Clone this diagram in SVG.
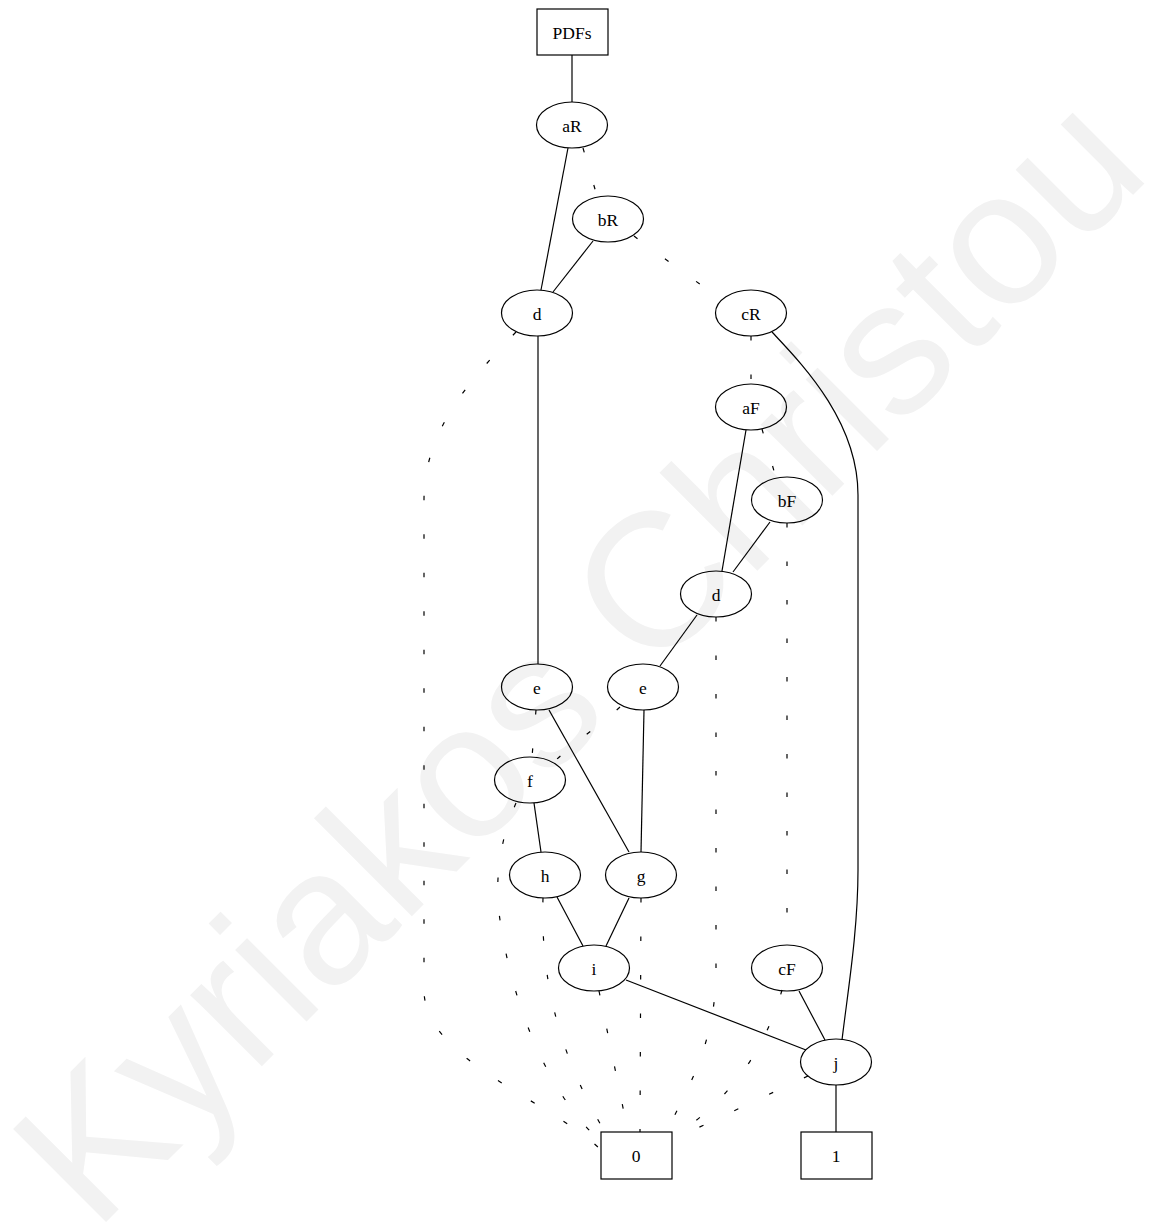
<svg xmlns="http://www.w3.org/2000/svg" width="1153" height="1230" viewBox="0 0 1153 1230">
  <style>
    .node ellipse, .node rect { fill: none; stroke: #000; stroke-width: 1.2; }
    .node text { font-family: "Liberation Serif", "Times New Roman", serif; font-size: 17.5px; text-anchor: middle; fill: #000; }
    .edges path { fill: none; stroke: #000; stroke-width: 1.2; }
    .edges .lo { stroke-dasharray: 4.5 34; }
    .mark { font-family: "Liberation Sans", Arial, sans-serif; font-size: 191px; fill: #f2f2f2; }
  </style>
  <rect width="1153" height="1230" fill="#fff"/>
  <text class="mark" transform="translate(95,1233) rotate(-45)">Kyriakos Christou</text>

  <g class="edges">
    <!-- high (solid) branches -->
    <path d="M572,55 L572,102"/>
    <path d="M568,148 L541,290"/>
    <path d="M593,241 L553,292"/>
    <path d="M538,336 L538,664"/>
    <path d="M772,332 C800,362 858,420 858,495 L858,870 C858,930 848,990 842,1040"/>
    <path d="M746,430 L722,571"/>
    <path d="M770,522 L733,572"/>
    <path d="M697,615 L660,666"/>
    <path d="M549,710 L629,852"/>
    <path d="M644,710 L641,852"/>
    <path d="M534,803 L541,852"/>
    <path d="M557,897 L583,946"/>
    <path d="M629,898 L606,946"/>
    <path d="M626,980 L806,1050"/>
    <path d="M799,991 L825,1040"/>
    <path d="M836,1085 L836,1132"/>
    <!-- low (dashed) branches -->
    <path class="lo" d="M583,148 L597,196"/>
    <path class="lo" d="M634,236 C660,256 690,276 718,298"/>
    <path class="lo" d="M516,332 C470,380 424,430 424,500 L424,990 C424,1060 550,1100 601,1150"/>
    <path class="lo" d="M751,336 L751,384"/>
    <path class="lo" d="M762,429 L776,478"/>
    <path class="lo" d="M787,523 L787,945"/>
    <path class="lo" d="M716,617 L716,970 C716,1040 690,1085 666,1132"/>
    <path class="lo" d="M536,710 L532,757"/>
    <path class="lo" d="M620,707 C600,725 575,742 556,760"/>
    <path class="lo" d="M516,803 C500,840 494,880 500,920 C510,990 540,1080 592,1133"/>
    <path class="lo" d="M543,898 C541,960 550,1040 605,1132"/>
    <path class="lo" d="M599,991 L628,1132"/>
    <path class="lo" d="M641,898 L640,1132"/>
    <path class="lo" d="M782,990 C765,1050 730,1100 672,1138"/>
    <path class="lo" d="M808,1076 L672,1140"/>
  </g>

  <g id="node-PDFs" class="node"><rect x="537" y="9" width="71" height="46"/><text x="572" y="39">PDFs</text></g>
  <g id="node-aR" class="node"><ellipse cx="572" cy="125" rx="35.5" ry="23"/><text x="572" y="132">aR</text></g>
  <g id="node-bR" class="node"><ellipse cx="608" cy="219" rx="35.5" ry="23"/><text x="608" y="226">bR</text></g>
  <g id="node-d1" class="node"><ellipse cx="537" cy="313" rx="35.5" ry="23"/><text x="537" y="320">d</text></g>
  <g id="node-cR" class="node"><ellipse cx="751" cy="313" rx="35.5" ry="23"/><text x="751" y="320">cR</text></g>
  <g id="node-aF" class="node"><ellipse cx="751" cy="407" rx="35.5" ry="23"/><text x="751" y="414">aF</text></g>
  <g id="node-bF" class="node"><ellipse cx="787" cy="500" rx="35.5" ry="23"/><text x="787" y="507">bF</text></g>
  <g id="node-d2" class="node"><ellipse cx="716" cy="594" rx="35.5" ry="23"/><text x="716" y="601">d</text></g>
  <g id="node-e1" class="node"><ellipse cx="537" cy="687" rx="35.5" ry="23"/><text x="537" y="694">e</text></g>
  <g id="node-e2" class="node"><ellipse cx="643" cy="687" rx="35.5" ry="23"/><text x="643" y="694">e</text></g>
  <g id="node-f" class="node"><ellipse cx="530" cy="780" rx="35.5" ry="23"/><text x="530" y="787">f</text></g>
  <g id="node-h" class="node"><ellipse cx="545" cy="875" rx="35.5" ry="23"/><text x="545" y="882">h</text></g>
  <g id="node-g" class="node"><ellipse cx="641" cy="875" rx="35.5" ry="23"/><text x="641" y="882">g</text></g>
  <g id="node-i" class="node"><ellipse cx="594" cy="968" rx="35.5" ry="23"/><text x="594" y="975">i</text></g>
  <g id="node-cF" class="node"><ellipse cx="787" cy="968" rx="35.5" ry="23"/><text x="787" y="975">cF</text></g>
  <g id="node-j" class="node"><ellipse cx="836" cy="1062" rx="35.5" ry="23"/><text x="836" y="1069">j</text></g>
  <g id="node-0" class="node"><rect x="601" y="1132" width="71" height="47"/><text x="636" y="1162">0</text></g>
  <g id="node-1" class="node"><rect x="801" y="1132" width="71" height="47"/><text x="836" y="1162">1</text></g>
</svg>
